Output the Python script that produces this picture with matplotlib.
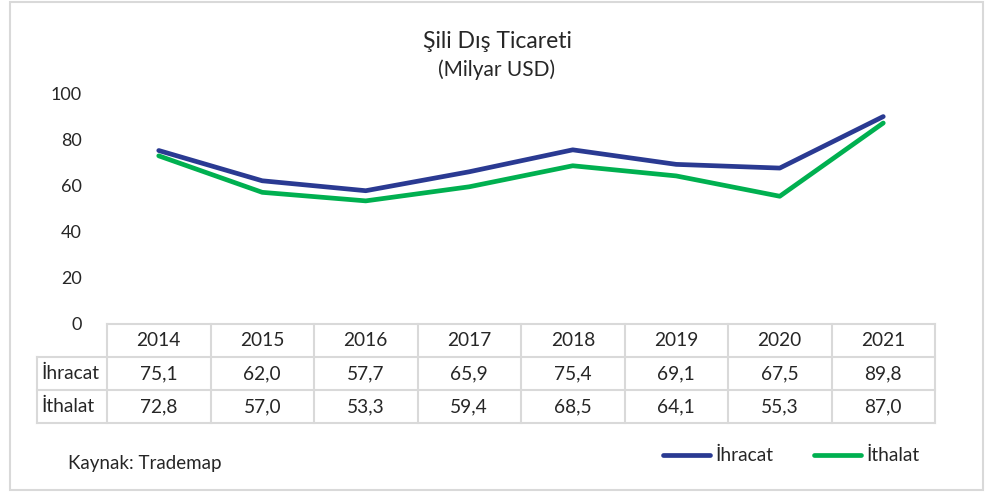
import matplotlib.pyplot as plt
from matplotlib.lines import Line2D
from matplotlib.patches import Rectangle

plt.rcParams['font.family'] = ['Lato', 'DejaVu Sans']

years = ['2014', '2015', '2016', '2017', '2018', '2019', '2020', '2021']
ihracat = [75.1, 62.0, 57.7, 65.9, 75.4, 69.1, 67.5, 89.8]
ithalat = [72.8, 57.0, 53.3, 59.4, 68.5, 64.1, 55.3, 87.0]
series_names = ['İhracat', 'İthalat']
y_ticks = [0, 20, 40, 60, 80, 100]

blue = '#2A3A92'
green = '#00B050'
grid_col = '#D9D9D9'
text_col = '#262626'

W, H = 992, 492
fig = plt.figure(figsize=(W / 100, H / 100), dpi=100)

# outer border of the chart area
fig.patches.append(Rectangle((10 / W, 2 / H), 973 / W, 488 / H, transform=fig.transFigure,
                             fill=False, edgecolor=grid_col, linewidth=1.5))

left, right = 107, 935
top, bottom = 93, 324
ax = fig.add_axes([left / W, 1 - bottom / H, (right - left) / W, (bottom - top) / H])
n = len(years)
xs = [i + 0.5 for i in range(n)]
ax.plot(xs, ihracat, color=blue, lw=3.4, solid_capstyle='round', solid_joinstyle='round')
ax.plot(xs, ithalat, color=green, lw=3.4, solid_capstyle='round', solid_joinstyle='round')
ax.set_xlim(0, n)
ax.set_ylim(0, 100)
ax.set_yticks(y_ticks)
ax.set_xticks([])
ax.tick_params(axis='y', length=0, pad=18, labelsize=13, labelcolor=text_col)
for s in ax.spines.values():
    s.set_visible(False)

# data table under the plot (in pixel coords)
row_h = 33
label_left = 37
tr = fig.transFigure
fs = 13.75


def fx(px):
    return px / W


def fy(py):
    return 1 - py / H


col_w = (right - left) / n
rows_y = [bottom + k * row_h for k in range(4)]
# horizontal lines
fig.add_artist(Line2D([fx(left), fx(right)], [fy(rows_y[0])] * 2, transform=tr, color=grid_col, lw=1.5))
for yy in rows_y[1:]:
    fig.add_artist(Line2D([fx(label_left), fx(right)], [fy(yy)] * 2, transform=tr, color=grid_col, lw=1.5))
# vertical lines
fig.add_artist(Line2D([fx(label_left)] * 2, [fy(rows_y[1]), fy(rows_y[3])], transform=tr, color=grid_col, lw=1.5))
for k in range(n + 1):
    xx = left + k * col_w
    fig.add_artist(Line2D([fx(xx)] * 2, [fy(rows_y[0]), fy(rows_y[3])], transform=tr, color=grid_col, lw=1.5))

for k, yr in enumerate(years):
    cx = left + (k + 0.5) * col_w
    fig.text(fx(cx), fy(rows_y[0] + row_h / 2), yr, ha='center', va='center', fontsize=fs, color=text_col)
    fig.text(fx(cx), fy(rows_y[1] + row_h / 2), f'{ihracat[k]:.1f}'.replace('.', ','),
             ha='center', va='center', fontsize=fs, color=text_col)
    fig.text(fx(cx), fy(rows_y[2] + row_h / 2), f'{ithalat[k]:.1f}'.replace('.', ','),
             ha='center', va='center', fontsize=fs, color=text_col)
for k, name in enumerate(series_names):
    fig.text(fx(label_left + 4), fy(rows_y[k + 1] + row_h / 2), name, ha='left', va='center',
             fontsize=fs, color=text_col)

# title
fig.text(fx(497), fy(42), 'Şili Dış Ticareti', ha='center', va='center', fontsize=16.5, color=text_col)
fig.text(fx(497), fy(70), '(Milyar USD)', ha='center', va='center', fontsize=15, color=text_col)

# source note
fig.text(fx(68), fy(463), 'Kaynak: Trademap', ha='left', va='center', fontsize=13.5, color=text_col)

# legend
for (x0, col, name) in [(663, blue, series_names[0]), (814, green, series_names[1])]:
    fig.add_artist(Line2D([fx(x0), fx(x0 + 47)], [fy(455)] * 2, transform=tr, color=col, lw=3.4,
                          solid_capstyle='round'))
    fig.text(fx(x0 + 52), fy(455), name, ha='left', va='center', fontsize=fs, color=text_col)

fig.savefig('out.png', dpi=100)
